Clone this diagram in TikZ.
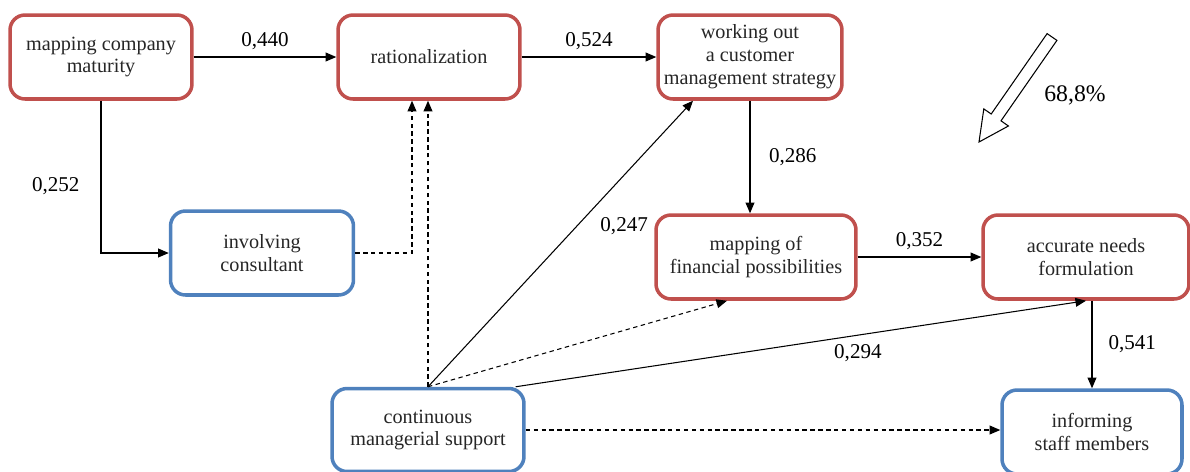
\documentclass[tikz,border=0pt]{standalone}
\usepackage{fontspec}
\setmainfont{Liberation Serif}
\usetikzlibrary{arrows.meta}
\definecolor{boxred}{RGB}{192,80,77}
\definecolor{boxblue}{RGB}{79,129,189}

\begin{document}
\begin{tikzpicture}
    [
    x=0.02cm, y=-0.02cm,
    every node/.style={font=\fontsize{12}{13}\selectfont},
    redbox/.style={rectangle, rounded corners=0.3cm, draw=boxred, line width=2pt, fill=white, minimum height=1.68cm, align=center, text=black!85, font=\fontsize{11.5}{13}\selectfont},
    bluebox/.style={redbox, draw=boxblue},
    arrow/.style={-{Triangle[length=6pt,width=5pt]}, line width=0.6pt},
    dasharrow/.style={arrow, dash pattern=on 2.5pt off 2pt},
    weight/.style={inner sep=2pt}
    ]
    \useasboundingbox (0,0) rectangle (1190,471);

% Upper row
    \node[redbox, minimum width=3.64cm] (maturity) at (101,57) {mapping company\\maturity};
    \node[redbox, minimum width=3.64cm] (rationalization) at (429,57) {rationalization};
    \node[redbox, minimum width=3.52cm] (strategy) at (750,57) {working out\\a customer\\management strategy};

% Middle row
    \node[bluebox, minimum width=3.66cm] (consultant) at (262,253) {involving\\consultant};
    \node[redbox, minimum width=4.0cm] (financial) at (756,257) {mapping of\\financial possibilities};
    \node[redbox, minimum width=4.12cm] (needs) at (1086,257) {accurate needs\\formulation};

% Lower row
    \node[bluebox, minimum width=3.84cm, minimum height=1.66cm] (support) at (428,430) {continuous\\managerial support};
    \node[bluebox, minimum width=3.6cm] (informing) at (1092,432) {informing\\staff members};
    \coordinate (hub) at (support.north);

% Paths
    \draw[arrow] (maturity) -- node[above=2pt, weight] {0,440} (rationalization);
    \draw[arrow] (rationalization) -- node[above=2pt, weight] {0,524} (strategy);
    \draw[arrow] (maturity.south) |- node[pos=0.28, left=0.35cm, weight] {0,252} (consultant.west);
    \draw[dasharrow] (consultant.east) -| ([xshift=-0.34cm]rationalization.south);
    \draw[dasharrow] (hub) -- (hub |- rationalization.south);
    \draw[arrow] (hub) -- node[pos=0.56, right=0.4cm, weight] {0,247} ([xshift=-1.14cm]strategy.south);
    \draw[dasharrow] (hub) -- ([xshift=-0.58cm]financial.south);
    \draw[arrow] ([xshift=-0.2cm]support.north east) -- node[pos=0.6, below=3pt, weight] {0,294} (needs.south);
    \draw[arrow] (strategy.south) -- node[right=0.3cm, weight] {0,286} (strategy.south |- financial.north);
    \draw[arrow] (financial) -- node[above=2pt, weight] {0,352} (needs);
    \draw[arrow] (informing.north |- needs.south) -- node[right=0.25cm, weight] {0,541} (informing);
    \draw[dasharrow] (support.east) -- (support.east -| informing.west);

% Explained variance
    \draw[line width=0.6pt, fill=white] (1056.9,40.4) -- (1001.0,120.8) -- (1008.4,126.0) -- (979,142)
        -- (983.8,108.9) -- (991.2,114.0) -- (1047.1,33.6) -- cycle;
    \node[font=\fontsize{13.5}{15}\selectfont] (share_label) at (1075,95) {68,8\%};

\end{tikzpicture}
\end{document}
